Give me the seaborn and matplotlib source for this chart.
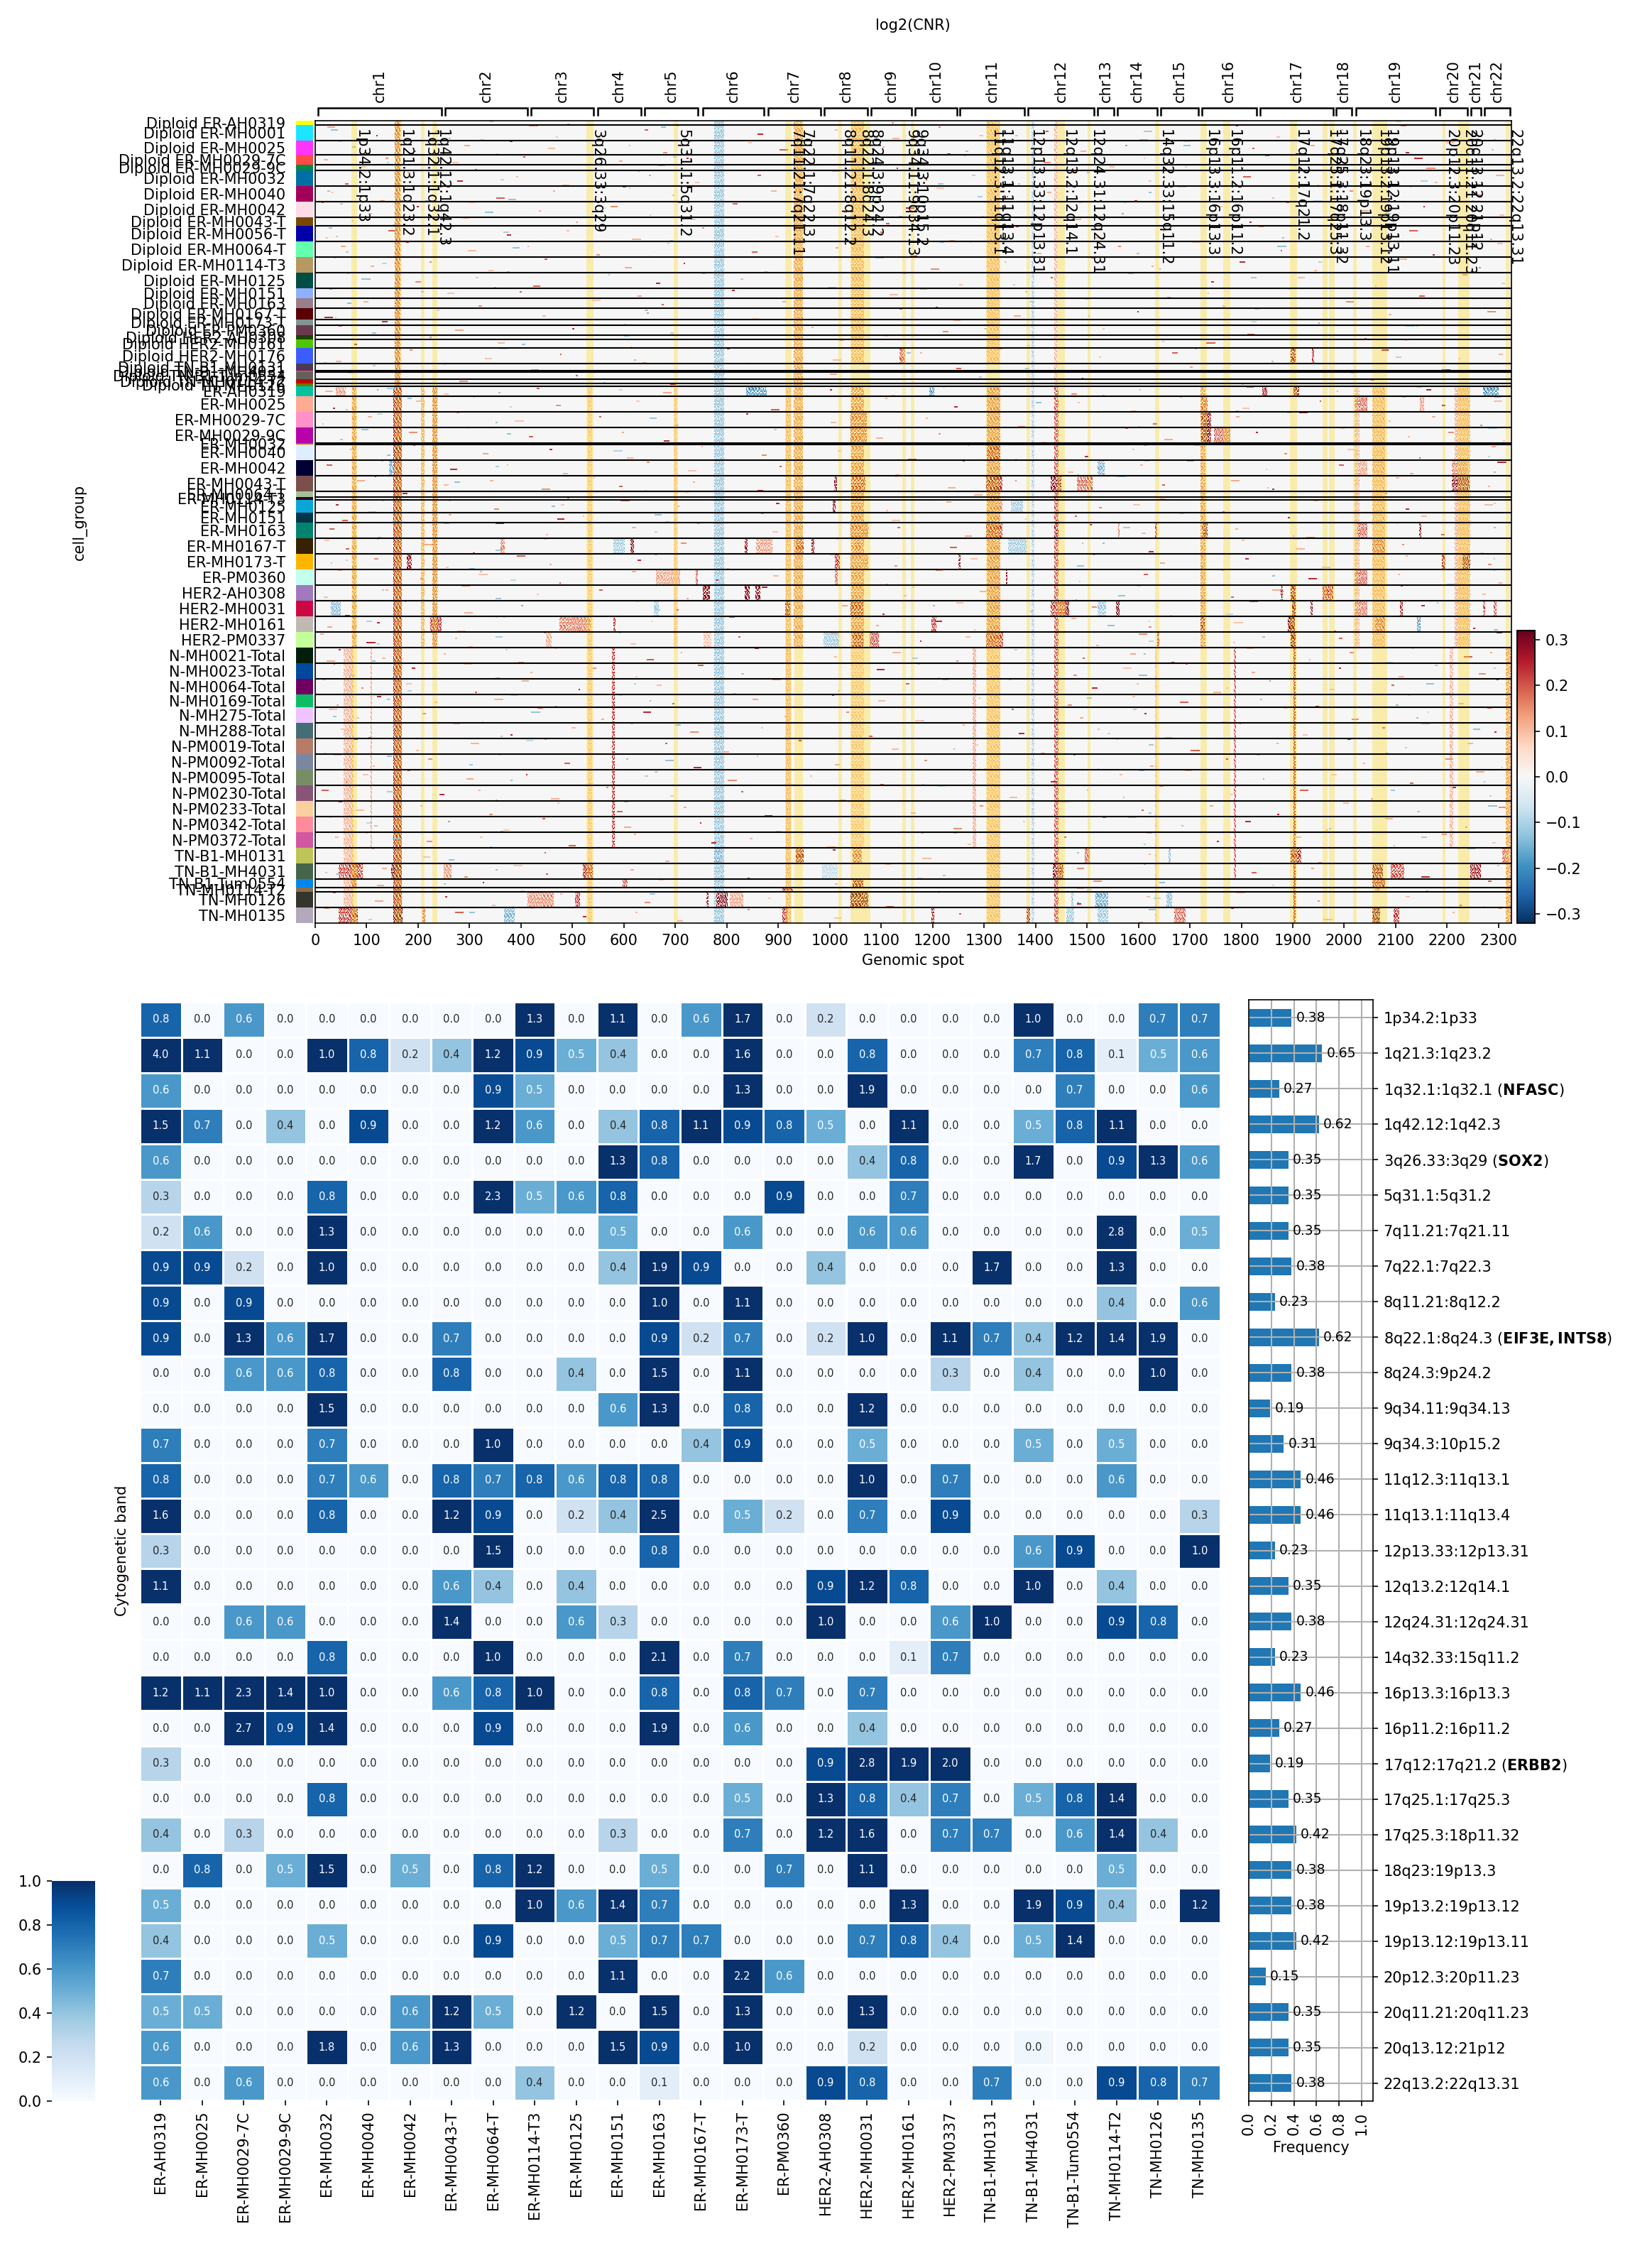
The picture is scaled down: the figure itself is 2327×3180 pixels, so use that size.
import matplotlib
matplotlib.use('Agg')
import matplotlib.pyplot as plt
from matplotlib.colors import ListedColormap
import numpy as np
import pandas as pd
import seaborn as sns

# ---- top panel: cell groups, height of each group in 2px rows, strip colours
group_names = [
    'Diploid ER-AH0319', 'Diploid ER-MH0001', 'Diploid ER-MH0025', 'Diploid ER-MH0029-7C', 'Diploid ER-MH0029-9C',
    'Diploid ER-MH0032', 'Diploid ER-MH0040', 'Diploid ER-MH0042', 'Diploid ER-MH0043-T', 'Diploid ER-MH0056-T',
    'Diploid ER-MH0064-T', 'Diploid ER-MH0114-T3', 'Diploid ER-MH0125', 'Diploid ER-MH0151', 'Diploid ER-MH0163',
    'Diploid ER-MH0167-T', 'Diploid ER-MH0173-T', 'Diploid ER-PM0360', 'Diploid HER2-AH0308', 'Diploid HER2-MH0161',
    'Diploid HER2-MH0176', 'Diploid TN-B1-MH0131', 'Diploid TN-B1-MH4031', 'Diploid TN-B1-Tum0554',
    'Diploid TN-MH0114-T2', 'Diploid TN-MH0126',
    'ER-AH0319', 'ER-MH0025', 'ER-MH0029-7C', 'ER-MH0029-9C', 'ER-MH0032', 'ER-MH0040', 'ER-MH0042', 'ER-MH0043-T',
    'ER-MH0064-T', 'ER-MH0114-T3', 'ER-MH0125', 'ER-MH0151', 'ER-MH0163', 'ER-MH0167-T', 'ER-MH0173-T', 'ER-PM0360',
    'HER2-AH0308', 'HER2-MH0031', 'HER2-MH0161', 'HER2-PM0337',
    'N-MH0021-Total', 'N-MH0023-Total', 'N-MH0064-Total', 'N-MH0169-Total', 'N-MH275-Total', 'N-MH288-Total',
    'N-PM0019-Total', 'N-PM0092-Total', 'N-PM0095-Total', 'N-PM0230-Total', 'N-PM0233-Total', 'N-PM0342-Total',
    'N-PM0372-Total', 'TN-B1-MH0131', 'TN-B1-MH4031', 'TN-B1-Tum0554', 'TN-MH0114-T2', 'TN-MH0126', 'TN-MH0135']
group_rows = [3, 11, 10, 7, 4, 11, 11, 11, 6, 11, 11, 11, 11, 7, 7, 8, 4, 7, 3, 6, 11, 5, 1, 5, 3, 2,
              7, 11, 11, 11, 1, 11, 11, 11, 4, 2, 9, 7, 11, 11, 11, 11, 11, 11, 11, 11,
              11, 11, 11, 9, 11, 11, 11, 11, 11, 11, 11, 11, 11, 11, 11, 6, 3, 11, 11]
group_colors = [
    '#FFFF00', '#1CE6FF', '#FF34FF', '#FF4A46', '#008941', '#006FA6', '#A30059', '#FFDBE5', '#7A4900', '#0000A6',
    '#63FFAC', '#B79762', '#004D43', '#8FB0FF', '#997D87', '#5A0007', '#809693', '#6A3A4C', '#1B4400', '#4FC601',
    '#3B5DFF', '#4A3B53', '#FF2F80', '#61615A', '#BA0900', '#6B7900', '#00C2A0', '#FFAA92', '#FF90C9', '#B903AA',
    '#D16100', '#DDEFFF', '#000035', '#7B4F4B', '#A1C299', '#300018', '#0AA6D8', '#013349', '#00846F', '#372101',
    '#FFB500', '#C2FFED', '#A079BF', '#CC0744', '#C0B9B2', '#C2FF99', '#001E09', '#00489C', '#6F0062', '#0CBD66',
    '#EEC3FF', '#456D75', '#B77B68', '#7A87A1', '#788D66', '#885578', '#FAD09F', '#FF8A9A', '#D157A0', '#BEC459',
    '#456648', '#0086ED', '#886F4C', '#34362D', '#B4A8BD']

n_spots = 2325
chrom_names = ['chr' + str(i) for i in range(1, 23)]
chrom_start = [6, 252, 420, 549, 640, 754, 880, 990, 1081, 1166, 1253, 1386, 1521, 1559, 1644, 1723, 1837, 1984, 2023, 2186, 2246, 2273]
chrom_end = [245, 412, 541, 633, 744, 872, 982, 1073, 1159, 1247, 1379, 1513, 1552, 1636, 1716, 1829, 1978, 2015, 2178, 2240, 2266, 2322]

band_names = [
    '1p34.2:1p33', '1q21.3:1q23.2', '1q32.1:1q32.1', '1q42.12:1q42.3', '3q26.33:3q29', '5q31.1:5q31.2',
    '7q11.21:7q21.11', '7q22.1:7q22.3', '8q11.21:8q12.2', '8q22.1:8q24.3', '8q24.3:9p24.2', '9q34.11:9q34.13',
    '9q34.3:10p15.2', '11q12.3:11q13.1', '11q13.1:11q13.4', '12p13.33:12p13.31', '12q13.2:12q14.1',
    '12q24.31:12q24.31', '14q32.33:15q11.2', '16p13.3:16p13.3', '16p11.2:16p11.2', '17q12:17q21.2',
    '17q25.1:17q25.3', '17q25.3:18p11.32', '18q23:19p13.3', '19p13.2:19p13.12', '19p13.12:19p13.11',
    '20p12.3:20p11.23', '20q11.21:20q11.23', '20q13.12:21p12', '22q13.2:22q13.31']
band_start = [70, 154, 206, 228, 527, 697, 914, 931, 1017, 1041, 1070, 1141, 1158, 1304, 1318, 1383, 1442, 1501,
              1633, 1720, 1765, 1895, 1958, 1971, 2017, 2055, 2068, 2191, 2222, 2234, 2314]
band_end = [81, 168, 212, 238, 541, 705, 926, 948, 1024, 1070, 1079, 1148, 1165, 1318, 1332, 1390, 1457, 1507,
            1641, 1733, 1778, 1908, 1968, 1981, 2024, 2068, 2083, 2197, 2234, 2244, 2322]
band_genes = {'1q32.1:1q32.1': 'NFASC', '3q26.33:3q29': 'SOX2', '8q22.1:8q24.3': 'EIF3E,INTS8', '17q12:17q21.2': 'ERBB2'}

# stripes running through runs of groups: start spot, end spot, log2 value, first group, last group
shared_stripes = [
    (155, 166, .20, 0, 25), (152, 168, .27, 26, 64), (775, 795, -.14, 0, 64), (1392, 1398, -.11, 0, 64),
    (1305, 1332, .17, 26, 45), (1305, 1332, .11, 46, 64), (1042, 1066, .17, 26, 45), (1042, 1066, .10, 46, 58),
    (1436, 1444, .22, 26, 64), (1436, 1442, .12, 0, 25), (1901, 1906, .26, 46, 64), (577, 582, .25, 46, 58),
    (1720, 1730, .16, 26, 45), (930, 948, .15, 0, 45), (228, 237, .20, 26, 45), (915, 925, .13, 26, 64),
    (55, 75, .12, 46, 64), (1278, 1285, .13, 46, 58), (2055, 2080, .13, 26, 45), (2020, 2030, .12, 26, 45),
    (2215, 2245, .13, 26, 45), (2314, 2324, .16, 46, 64), (2205, 2212, .12, 46, 58), (108, 111, .15, 46, 58),
    (206, 212, .14, 26, 45), (72, 80, .16, 26, 45), (1042, 1066, .13, 0, 20), (1306, 1330, .12, 0, 20),
    (530, 538, .10, 26, 64), (697, 704, .10, 26, 45), (1632, 1637, .09, 46, 64), (1786, 1789, .20, 46, 60)]

# strong block per group: group index -> (start spot, end spot, value)
group_blocks = {
    20: [(1896, 1906, .28), (1937, 1941, .25), (1136, 1146, .2)],
    26: [(1840, 1850, .28), (1901, 1912, .3), (1193, 1203, -.2), (837, 878, -.2), (2270, 2300, -.2), (40, 60, .15)],
    27: [(2020, 2045, .2), (1722, 1734, .22), (2147, 2155, .15)],
    28: [(1722, 1742, .3), (1040, 1072, .2)],
    29: [(1722, 1742, .32), (1747, 1778, .2), (1040, 1072, .2)],
    31: [(153, 168, .3), (1305, 1332, .25)],
    32: [(2025, 2045, .14), (2055, 2080, .15), (2209, 2240, .17), (1521, 1535, -.16), (143, 150, -.18)],
    33: [(1008, 1014, .32), (1042, 1070, .24), (1304, 1336, .28), (1429, 1450, .3), (1480, 1511, .2), (2209, 2244, .3)],
    36: [(1006, 1011, .3), (1352, 1376, -.13), (1305, 1335, .17)],
    38: [(1040, 1075, .2), (1304, 1336, .25), (1725, 1735, .3), (2025, 2045, .2), (2145, 2150, .3), (1436, 1444, .28),
         (1632, 1637, .26), (1560, 1564, .18)],
    39: [(580, 602, -.13), (612, 620, .32), (835, 840, .3), (857, 888, .15), (934, 950, .24), (965, 970, .3),
         (1050, 1060, .2), (1347, 1383, -.13), (2055, 2080, .2), (360, 368, .17)],
    40: [(178, 188, .3), (1010, 1020, .25), (1040, 1075, .17), (1250, 1254, .3), (2190, 2197, .28), (2230, 2245, .3)],
    41: [(663, 709, .14), (740, 744, .2), (1342, 1346, .34), (1010, 1016, .2), (2020, 2045, .2), (230, 238, .2)],
    42: [(753, 767, .34), (835, 845, .34), (855, 865, .32), (1876, 1881, .3), (1896, 1905, .3), (1958, 1978, .25)],
    43: [(30, 50, -.15), (658, 668, -.12), (913, 923, .28), (1040, 1065, .26), (1429, 1458, .24), (1458, 1466, .34),
         (1557, 1564, .34), (1899, 1905, .36), (1934, 1938, .3), (2108, 2114, .28), (2020, 2045, .18), (2270, 2274, .22),
         (2291, 2296, .22), (1521, 1537, -.13)],
    44: [(474, 536, .18), (580, 584, .26), (224, 245, .26), (158, 168, .28), (1198, 1208, .25), (1891, 1904, .36),
         (1721, 1729, .28), (2142, 2148, -.2), (2060, 2080, .2)],
    45: [(988, 1018, -.13), (1044, 1065, .26), (1078, 1095, .22), (1304, 1337, .24), (1636, 1640, .25), (1896, 1905, .36),
         (449, 459, .13), (755, 770, .1)],
    59: [(775, 790, -.17), (934, 950, .27), (1044, 1062, .2), (1496, 1506, .2), (1896, 1916, .27), (2307, 2320, .2),
         (1658, 1662, -.15)],
    60: [(46, 92, .23), (148, 168, .32), (250, 265, .15), (520, 540, .27), (985, 1015, -.09), (1434, 1455, .3),
         (2055, 2075, .3), (2091, 2117, .22), (2245, 2266, .28)],
    61: [(597, 607, .22), (1044, 1065, .28), (2055, 2080, .26), (70, 80, .2)],
    62: [(908, 929, .25), (2060, 2070, .15)],
    63: [(413, 464, .16), (505, 515, .25), (760, 765, .3), (780, 801, .32), (806, 832, .14), (1040, 1075, .32),
         (1516, 1541, -.17), (1655, 1665, -.15), (1470, 1474, -.14)],
    64: [(46, 83, .24), (152, 170, .32), (208, 214, .2), (367, 388, -.16), (908, 918, .25), (1198, 1203, .28),
         (1383, 1390, .3), (1670, 1691, .2), (2055, 2070, .32), (2096, 2107, .25), (1460, 1475, -.13), (1521, 1541, -.13)]}

# short marks read per group (spot positions only)
red_marks = [
    [340, 1120, 2100],
    [24, 118, 232, 322, 416, 468, 640, 702, 860, 1010, 1122, 1212, 1290, 1420, 1602, 1790, 1868, 1994, 2110, 2268],
    [44, 192, 290, 378, 452, 610, 676, 842, 902, 1102, 1228, 1350, 1488, 1574, 1688, 1822, 1934, 2120, 2198, 2286],
    [16, 136, 262, 404, 590, 722, 1082, 1260, 1416, 1610, 1846, 2002, 2136],
    [88, 310, 666, 1130, 1544, 1902, 2160],
    [58, 180, 276, 390, 480, 628, 738, 860, 1004, 1186, 1276, 1366, 1470, 1620, 1804, 1948, 2098, 2176, 2294],
    [32, 126, 244, 352, 462, 598, 694, 886, 1094, 1208, 1344, 1422, 1592, 1676, 1860, 2010, 2128, 2256],
    [12, 104, 198, 300, 434, 574, 650, 812, 1028, 1148, 1296, 1484, 1568, 1752, 1888, 2034, 2154, 2302],
    [70, 286, 508, 730, 1110, 1472, 1816, 2092],
    [20, 142, 268, 372, 488, 616, 752, 894, 1098, 1232, 1362, 1516, 1648, 1834, 1996, 2126, 2284],
    [50, 176, 296, 412, 546, 684, 848, 1012, 1156, 1272, 1402, 1560, 1704, 1876, 2042, 2172, 2298],
    [36, 108, 222, 336, 446, 602, 716, 872, 1088, 1196, 1340, 1508, 1626, 1796, 1942, 2108, 2262],
    [62, 194, 312, 424, 570, 662, 826, 996, 1142, 1252, 1430, 1580, 1742, 1910, 2060, 2230, 2306],
    [28, 256, 398, 626, 810, 1116, 1380, 1656, 1892, 2146],
    [94, 318, 538, 674, 908, 1206, 1494, 1764, 2004, 2250],
    [18, 238, 442, 644, 850, 1136, 1358, 1598, 1826, 2086, 2278],
    [130, 600, 1240, 1950],
    [46, 272, 500, 690, 964, 1220, 1530, 1812, 2140],
    [222, 1106, 2040],
    [76, 354, 612, 1018, 1384, 1732, 2118],
    [40, 184, 330, 476, 636, 800, 1006, 1176, 1328, 1524, 1666, 1858, 2072, 2222, 2300],
    [112, 420, 840, 1246, 1700, 2190],
    [580],
    [64, 506, 1000, 1490, 2012],
    [280, 1160, 2052],
    [690, 1800],
    [20, 120, 250, 430, 676, 1000, 1120, 1220, 1470, 1600, 1810, 1986, 2160, 2282],
    [34, 196, 308, 468, 624, 886, 1108, 1242, 1482, 1586, 1680, 1802, 1952, 2112, 2190, 2290],
    [14, 102, 274, 388, 552, 700, 838, 1002, 1186, 1366, 1520, 1628, 1790, 1912, 2086, 2170, 2264],
    [48, 182, 296, 416, 596, 678, 892, 1090, 1212, 1412, 1574, 1650, 1828, 1994, 2124, 2202, 2308],
    [1210],
    [66, 190, 326, 456, 606, 750, 868, 1016, 1152, 1268, 1496, 1588, 1708, 1884, 2006, 2146, 2286],
    [22, 128, 262, 372, 482, 644, 724, 902, 1128, 1258, 1462, 1604, 1694, 1848, 1990, 2128, 2298],
    [82, 116, 250, 340, 440, 540, 590, 734, 860, 1126, 1230, 1360, 1556, 1646, 1780, 1860, 2100, 2280],
    [170, 720, 1280, 2080],
    [490, 1640],
    [40, 104, 260, 348, 478, 594, 704, 896, 1110, 1226, 1524, 1590, 1764, 1940, 2120, 2272],
    [52, 260, 470, 520, 680, 866, 1120, 1476, 1680, 1890, 2150],
    [28, 122, 350, 448, 616, 742, 888, 1132, 1262, 1506, 1606, 1788, 1926, 2100, 2188, 2290],
    [18, 60, 210, 306, 444, 532, 710, 1012, 1234, 1490, 1620, 1800, 1906, 2112, 2264],
    [30, 114, 254, 392, 456, 626, 800, 1000, 1126, 1274, 1512, 1642, 1808, 1956, 2120, 2280],
    [44, 204, 318, 474, 616, 780, 890, 1108, 1206, 1484, 1610, 1760, 1930, 2104, 2300],
    [16, 136, 284, 430, 552, 722, 868, 1144, 1292, 1478, 1596, 1780, 1860, 2110, 2268],
    [58, 172, 290, 400, 622, 702, 1024, 1102, 1246, 1390, 1510, 1660, 1816, 2030, 2150],
    [24, 120, 276, 366, 512, 652, 804, 1090, 1204, 1280, 1470, 1620, 1786, 1980, 2140, 2250],
    [10, 100, 272, 300, 444, 612, 822, 1000, 1176, 1264, 1518, 1600, 1784, 1990, 2060, 2296],
    [22, 46, 130, 250, 394, 466, 644, 710, 854, 1008, 1122, 1246, 1358, 1492, 1584, 1664, 1810, 1932, 2010, 2130, 2232, 2284],
    [36, 68, 188, 288, 418, 540, 622, 744, 828, 1092, 1210, 1276, 1474, 1570, 1692, 1820, 1990, 2106, 2176, 2262],
    [14, 90, 176, 310, 402, 512, 664, 812, 888, 1016, 1148, 1348, 1510, 1596, 1746, 1854, 1972, 2092, 2190, 2296],
    [42, 120, 232, 348, 466, 590, 694, 850, 1004, 1094, 1290, 1462, 1588, 1680, 1836, 1944, 2124, 2222],
    [26, 82, 208, 324, 432, 556, 638, 776, 912, 1032, 1166, 1354, 1486, 1612, 1762, 1884, 2014, 2162, 2278],
    [50, 104, 268, 380, 498, 612, 728, 866, 1076, 1258, 1368, 1520, 1652, 1796, 1920, 2074, 2150, 2292],
    [18, 74, 196, 302, 446, 574, 680, 794, 940, 1120, 1286, 1410, 1556, 1702, 1868, 2006, 2118, 2240],
    [34, 112, 220, 356, 484, 604, 736, 858, 1010, 1184, 1300, 1474, 1622, 1770, 1894, 2036, 2196, 2306],
    [60, 92, 180, 294, 410, 530, 660, 802, 962, 1098, 1272, 1430, 1564, 1690, 1842, 1976, 2128, 2256],
    [12, 106, 242, 316, 458, 566, 690, 828, 1020, 1212, 1350, 1500, 1640, 1778, 1914, 2052, 2210, 2282],
    [46, 78, 204, 338, 470, 586, 716, 874, 1036, 1158, 1292, 1448, 1606, 1738, 1870, 1998, 2142, 2300],
    [28, 114, 258, 366, 442, 600, 748, 896, 1068, 1240, 1376, 1530, 1684, 1808, 1964, 2080, 2236],
    [38, 98, 216, 320, 492, 620, 770, 844, 994, 1178, 1268, 1456, 1616, 1752, 1902, 2096, 2190, 2288],
    [110, 210, 445, 680, 1006, 1180, 1620, 1950, 2220],
    [20, 130, 290, 386, 448, 612, 840, 1108, 1220, 1480, 1610, 1820, 1936, 2150, 2298],
    [120, 326, 668, 1010, 1512, 1860, 2280],
    [400, 1480, 2160],
    [34, 116, 252, 344, 476, 640, 880, 1110, 1210, 1480, 1616, 1790, 1948, 2120, 2224],
    [18, 104, 272, 420, 520, 622, 704, 840, 1008, 1252, 1600, 1780, 1960, 2210, 2300]]
blue_marks = [
    [490],
    [30, 260, 672, 1360, 1610, 2290], [72, 352, 720, 1264, 1688, 2204], [140, 696, 1480], [1690],
    [96, 360, 648, 1210, 1500, 2148], [24, 376, 610, 1288, 1620, 1940], [48, 330, 560, 1134, 1572, 2080], [150, 1180],
    [26, 40, 366, 690, 1342, 1880], [60, 384, 646, 1214, 1596, 1870], [130, 372, 1088, 1640, 1950], [90, 348, 752, 1356, 1818],
    [206, 1176, 1734], [62, 1390], [38, 640, 1502], [1820], [110, 1300, 2120], [600],
    [402, 1646], [16, 358, 620, 1150, 1710, 2100], [250, 1380], [], [1290], [560], [],
    [140, 356, 590, 1530, 2140], [60, 180, 378, 1400, 1790, 2290], [120, 350, 650, 1600, 1888], [90, 210, 372, 1500, 2280], [],
    [140, 580, 1360, 1610, 2280], [150, 350, 1480, 1610, 2290], [270, 640, 1560, 1850], [1500], [],
    [130, 460, 2290], [150, 660, 1380], [250, 660, 1570, 1900], [120, 350, 1530, 1900], [60, 300, 660, 1480, 2290],
    [320, 380, 1860, 2200, 2290], [130, 350, 1160, 1560, 1880], [230, 660, 1200, 1770, 2180], [100, 350, 1540, 1620, 2290],
    [120, 350, 590, 1620, 1840],
    [110, 370, 1160, 1610, 2080], [150, 350, 1170, 1600, 2290], [180, 620, 1220, 1770, 2160], [140, 380, 650, 1500, 2100],
    [35, 420, 1180, 1590, 2140], [150, 360, 700, 1540, 2250], [60, 410, 1240, 1620, 2080], [140, 300, 680, 1520, 1830],
    [380, 640, 1180, 1600, 2270], [140, 350, 1210, 1570, 2090], [60, 600, 1620, 2280], [100, 360, 1580, 1970],
    [150, 340, 1240, 1610, 2150], [260, 1480, 2240], [40, 350, 1170, 1610], [250, 1640], [1500], [650, 1480, 1630, 2270],
    [60, 300, 1460, 1620, 1900]]

# values and sizes of those short marks, cycled in list order
mark_lengths = [7, 4, 11, 5, 14, 3, 9, 6, 17, 4]
mark_values = [.11, .15, .09, .19, .12, .24, .10]
mark_rows = [.08, .55, .30, .82, .18, .66, .42, .92, .05, .74, .36]
# hand drawn break-up of the stripes: 0 empty, 1 faint, 2 full
stripe_tile = ['2012021', '1200212', '0221020', '2102102', '0210221', '2021002', '1022120']

# ---- bottom panel
sample_names = [
    'ER-AH0319', 'ER-MH0025', 'ER-MH0029-7C', 'ER-MH0029-9C', 'ER-MH0032', 'ER-MH0040', 'ER-MH0042', 'ER-MH0043-T',
    'ER-MH0064-T', 'ER-MH0114-T3', 'ER-MH0125', 'ER-MH0151', 'ER-MH0163', 'ER-MH0167-T', 'ER-MH0173-T', 'ER-PM0360',
    'HER2-AH0308', 'HER2-MH0031', 'HER2-MH0161', 'HER2-PM0337', 'TN-B1-MH0131', 'TN-B1-MH4031', 'TN-B1-Tum0554',
    'TN-MH0114-T2', 'TN-MH0126', 'TN-MH0135']
band_scores = [
    [.8, 0, .6, 0, 0, 0, 0, 0, 0, 1.3, 0, 1.1, 0, .6, 1.7, 0, .2, 0, 0, 0, 0, 1.0, 0, 0, .7, .7],
    [4.0, 1.1, 0, 0, 1.0, .8, .2, .4, 1.2, .9, .5, .4, 0, 0, 1.6, 0, 0, .8, 0, 0, 0, .7, .8, .1, .5, .6],
    [.6, 0, 0, 0, 0, 0, 0, 0, .9, .5, 0, 0, 0, 0, 1.3, 0, 0, 1.9, 0, 0, 0, 0, .7, 0, 0, .6],
    [1.5, .7, 0, .4, 0, .9, 0, 0, 1.2, .6, 0, .4, .8, 1.1, .9, .8, .5, 0, 1.1, 0, 0, .5, .8, 1.1, 0, 0],
    [.6, 0, 0, 0, 0, 0, 0, 0, 0, 0, 0, 1.3, .8, 0, 0, 0, 0, .4, .8, 0, 0, 1.7, 0, .9, 1.3, .6],
    [.3, 0, 0, 0, .8, 0, 0, 0, 2.3, .5, .6, .8, 0, 0, 0, .9, 0, 0, .7, 0, 0, 0, 0, 0, 0, 0],
    [.2, .6, 0, 0, 1.3, 0, 0, 0, 0, 0, 0, .5, 0, 0, .6, 0, 0, .6, .6, 0, 0, 0, 0, 2.8, 0, .5],
    [.9, .9, .2, 0, 1.0, 0, 0, 0, 0, 0, 0, .4, 1.9, .9, 0, 0, .4, 0, 0, 0, 1.7, 0, 0, 1.3, 0, 0],
    [.9, 0, .9, 0, 0, 0, 0, 0, 0, 0, 0, 0, 1.0, 0, 1.1, 0, 0, 0, 0, 0, 0, 0, 0, .4, 0, .6],
    [.9, 0, 1.3, .6, 1.7, 0, 0, .7, 0, 0, 0, 0, .9, .2, .7, 0, .2, 1.0, 0, 1.1, .7, .4, 1.2, 1.4, 1.9, 0],
    [0, 0, .6, .6, .8, 0, 0, .8, 0, 0, .4, 0, 1.5, 0, 1.1, 0, 0, 0, 0, .3, 0, .4, 0, 0, 1.0, 0],
    [0, 0, 0, 0, 1.5, 0, 0, 0, 0, 0, 0, .6, 1.3, 0, .8, 0, 0, 1.2, 0, 0, 0, 0, 0, 0, 0, 0],
    [.7, 0, 0, 0, .7, 0, 0, 0, 1.0, 0, 0, 0, 0, .4, .9, 0, 0, .5, 0, 0, 0, .5, 0, .5, 0, 0],
    [.8, 0, 0, 0, .7, .6, 0, .8, .7, .8, .6, .8, .8, 0, 0, 0, 0, 1.0, 0, .7, 0, 0, 0, .6, 0, 0],
    [1.6, 0, 0, 0, .8, 0, 0, 1.2, .9, 0, .2, .4, 2.5, 0, .5, .2, 0, .7, 0, .9, 0, 0, 0, 0, 0, .3],
    [.3, 0, 0, 0, 0, 0, 0, 0, 1.5, 0, 0, 0, .8, 0, 0, 0, 0, 0, 0, 0, 0, .6, .9, 0, 0, 1.0],
    [1.1, 0, 0, 0, 0, 0, 0, .6, .4, 0, .4, 0, 0, 0, 0, 0, .9, 1.2, .8, 0, 0, 1.0, 0, .4, 0, 0],
    [0, 0, .6, .6, 0, 0, 0, 1.4, 0, 0, .6, .3, 0, 0, 0, 0, 1.0, 0, 0, .6, 1.0, 0, 0, .9, .8, 0],
    [0, 0, 0, 0, .8, 0, 0, 0, 1.0, 0, 0, 0, 2.1, 0, .7, 0, 0, 0, .1, .7, 0, 0, 0, 0, 0, 0],
    [1.2, 1.1, 2.3, 1.4, 1.0, 0, 0, .6, .8, 1.0, 0, 0, .8, 0, .8, .7, 0, .7, 0, 0, 0, 0, 0, 0, 0, 0],
    [0, 0, 2.7, .9, 1.4, 0, 0, 0, .9, 0, 0, 0, 1.9, 0, .6, 0, 0, .4, 0, 0, 0, 0, 0, 0, 0, 0],
    [.3, 0, 0, 0, 0, 0, 0, 0, 0, 0, 0, 0, 0, 0, 0, 0, .9, 2.8, 1.9, 2.0, 0, 0, 0, 0, 0, 0],
    [0, 0, 0, 0, .8, 0, 0, 0, 0, 0, 0, 0, 0, 0, .5, 0, 1.3, .8, .4, .7, 0, .5, .8, 1.4, 0, 0],
    [.4, 0, .3, 0, 0, 0, 0, 0, 0, 0, 0, .3, 0, 0, .7, 0, 1.2, 1.6, 0, .7, .7, 0, .6, 1.4, .4, 0],
    [0, .8, 0, .5, 1.5, 0, .5, 0, .8, 1.2, 0, 0, .5, 0, 0, .7, 0, 1.1, 0, 0, 0, 0, 0, .5, 0, 0],
    [.5, 0, 0, 0, 0, 0, 0, 0, 0, 1.0, .6, 1.4, .7, 0, 0, 0, 0, 0, 1.3, 0, 0, 1.9, .9, .4, 0, 1.2],
    [.4, 0, 0, 0, .5, 0, 0, 0, .9, 0, 0, .5, .7, .7, 0, 0, 0, .7, .8, .4, 0, .5, 1.4, 0, 0, 0],
    [.7, 0, 0, 0, 0, 0, 0, 0, 0, 0, 0, 1.1, 0, 0, 2.2, .6, 0, 0, 0, 0, 0, 0, 0, 0, 0, 0],
    [.5, .5, 0, 0, 0, 0, .6, 1.2, .5, 0, 1.2, 0, 1.5, 0, 1.3, 0, 0, 1.3, 0, 0, 0, 0, 0, 0, 0, 0],
    [.6, 0, 0, 0, 1.8, 0, .6, 1.3, 0, 0, 0, 1.5, .9, 0, 1.0, 0, 0, .2, 0, 0, 0, .04, 0, 0, 0, 0],
    [.6, 0, .6, 0, 0, 0, 0, 0, 0, .4, 0, 0, .1, 0, 0, 0, .9, .8, 0, 0, .7, 0, 0, .9, .8, .7]]
band_freq = [.38, .65, .27, .62, .35, .35, .35, .38, .23, .62, .38, .19, .31, .46, .46, .23, .35, .38, .23, .46,
             .27, .19, .35, .42, .38, .38, .42, .15, .35, .35, .38]

W, H = 2327, 3180
fig = plt.figure(figsize=(W / 150, H / 150), dpi=150)


def axes_px(left, top, right, bottom):
    return fig.add_axes([left / W, 1 - bottom / H, (right - left) / W, (bottom - top) / H])


# build the spot matrix from the lists above
tile = np.array([[int(c) for c in line] for line in stripe_tile])
edges = np.concatenate([[0], np.cumsum(group_rows)])
spots = np.zeros((edges[-1], n_spots))


def paint(group, start, end, value):
    for r in range(edges[group], edges[group + 1]):
        for c in range(start, min(end, n_spots)):
            level = tile[r % 7, c % 7]
            new = value * level / 2
            if abs(new) > abs(spots[r, c]):
                spots[r, c] = new


for start, end, value, first, last in shared_stripes:
    for g in range(first, last + 1):
        paint(g, start, end, value)
for g, blocks in group_blocks.items():
    for start, end, value in blocks:
        paint(g, start, end, value)

k = 0
for g in range(len(group_names)):
    for sign, marks in ((1, red_marks[g]), (-1, blue_marks[g])):
        for pos in marks:
            row = edges[g] + int(mark_rows[k % len(mark_rows)] * group_rows[g])
            ln = mark_lengths[k % len(mark_lengths)]
            val = mark_values[k % len(mark_values)]
            if sign < 0:
                val = min(val, .13)
            spots[row, pos:pos + ln] = sign * val
            k += 1

# ---- top heatmap
ax_top = axes_px(444, 170, 2129, 1300)
cax_top = axes_px(2137, 888, 2162, 1300)
sns.heatmap(spots, cmap='RdBu_r', vmin=-.32, vmax=.32, ax=ax_top, cbar_ax=cax_top,
            xticklabels=False, yticklabels=False, rasterized=True)
cax_top.set_yticks([-.3, -.2, -.1, 0, .1, .2, .3])
cax_top.tick_params(labelsize=10, length=3.5, width=.8)
for sp in cax_top.spines.values():
    sp.set_visible(True)
    sp.set_linewidth(.8)
ax_top.set_xticks(range(0, 2301, 100))
ax_top.set_xticklabels([str(i) for i in range(0, 2301, 100)], rotation=0, fontsize=10)
ax_top.tick_params(axis='x', bottom=True, length=3.5, width=.8)
ax_top.set_xlabel('Genomic spot', fontsize=10, labelpad=4)
for sp in ax_top.spines.values():
    sp.set_visible(True)
    sp.set_linewidth(.8)

for s, e in zip(band_start, band_end):
    ax_top.axvspan(s, e, color='gold', alpha=.3, lw=0)
ax_top.hlines(edges[1:-1], 0, n_spots, color='black', lw=1)

px_y = ax_top.get_xaxis_transform()
for name, s, e in zip(band_names, band_start, band_end):
    ax_top.text((s + e) / 2, 1 - 12 / 1130, name, transform=px_y, rotation=-90, ha='left', va='top', fontsize=10)
for name, s, e in zip(chrom_names, chrom_start, chrom_end):
    ax_top.plot([s, s, e, e], [1 + 8 / 1130, 1 + 18 / 1130, 1 + 18 / 1130, 1 + 8 / 1130], transform=px_y,
                color='black', lw=1.2, clip_on=False, solid_joinstyle='miter')
    ax_top.text((s + e) / 2, 1 + 26 / 1130, name, transform=px_y, rotation=90, ha='center', va='bottom', fontsize=10)

fig.text(1286 / W, 1 - 36 / H, 'log2(CNR)', ha='center', va='center', fontsize=10)
fig.text(112 / W, 1 - 735 / H, 'cell_group', rotation=90, ha='center', va='center', fontsize=10)

# colour strip with the group names
ax_strip = axes_px(417, 170, 441, 1300)
strip = np.repeat(np.arange(len(group_names)), group_rows).reshape(-1, 1)
sns.heatmap(strip, cmap=ListedColormap(group_colors), vmin=-.5, vmax=len(group_names) - .5, cbar=False,
            ax=ax_strip, xticklabels=False, yticklabels=False)
ax_strip.set_yticks((edges[:-1] + edges[1:]) / 2)
ax_strip.set_yticklabels(group_names, rotation=0, fontsize=10)
ax_strip.tick_params(axis='y', left=False, length=0, pad=7)

# ---- bottom heatmap
score_df = pd.DataFrame(band_scores, index=band_names, columns=sample_names)
ax_heat = axes_px(197, 1411, 1719, 2958)
cax_heat = axes_px(73, 2649, 134, 2959)
sns.heatmap(score_df, cmap='Blues', vmin=0, vmax=1, annot=True, fmt='.1f', annot_kws={'fontsize': 7},
            linewidths=1.4, linecolor='white', ax=ax_heat, cbar_ax=cax_heat, yticklabels=False)
ax_heat.set_xticklabels(sample_names, rotation=90, fontsize=10)
ax_heat.tick_params(axis='x', length=3.5, width=.8)
cax_heat.yaxis.set_ticks_position('left')
cax_heat.set_yticks([0, .2, .4, .6, .8, 1])
cax_heat.tick_params(labelsize=10, length=3.5, width=.8)
fig.text(172 / W, 1 - 2184 / H, 'Cytogenetic band', rotation=90, ha='center', va='center', fontsize=10)

# ---- frequency bars
ax_bar = axes_px(1759, 1408, 1934, 2959)
freq_labels = []
for name in band_names:
    if name in band_genes:
        name = name + r' ($\bf{' + band_genes[name] + r'}$)'
    freq_labels.append(name)
freq_df = pd.DataFrame({'band': band_names, 'freq': band_freq})
sns.barplot(data=freq_df, y='band', x='freq', color='#1f77b4', saturation=1, width=.5, orient='h', ax=ax_bar)
ax_bar.bar_label(ax_bar.containers[0], fmt='%.2f', padding=3, fontsize=9)
ax_bar.set_xlim(0, 1.1)
ax_bar.set_ylim(30.5, -.5)
ax_bar.set_xticks([0, .2, .4, .6, .8, 1.0])
ax_bar.set_xticklabels(['0.0', '0.2', '0.4', '0.6', '0.8', '1.0'], rotation=90, fontsize=10)
ax_bar.set_yticks(range(len(freq_labels)))
ax_bar.set_yticklabels(freq_labels, fontsize=10)
ax_bar.yaxis.tick_right()
ax_bar.grid(True, color='#b0b0b0', lw=1)
ax_bar.set_xlabel('Frequency', fontsize=10)
ax_bar.set_ylabel('')

fig.savefig('out.png', dpi=150, facecolor='white')
